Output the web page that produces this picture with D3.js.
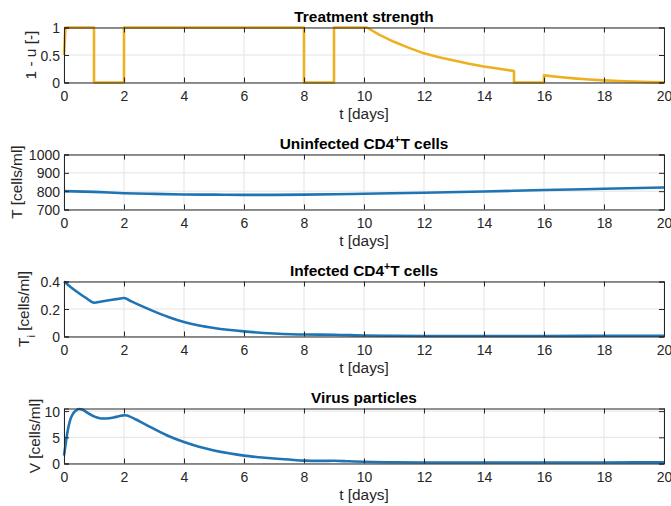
<!DOCTYPE html>
<html>
<head>
<meta charset="utf-8">
<script src="https://cdn.jsdelivr.net/npm/d3@7"></script>
<style>
  html, body { margin: 0; padding: 0; background: #fff; }
  svg { display: block; font-family: "Liberation Sans", Arial, Helvetica, sans-serif; }
</style>
</head>
<body>
<svg id="chart" width="671" height="506"></svg>
<script>
// Time grid shared by all panels (days)
const xTicks = [0, 2, 4, 6, 8, 10, 12, 14, 16, 18, 20];

// Treatment strength 1 - u
const tU = [0, 0.05, 1, 1, 2, 2, 8, 8, 9, 9, 10.1, 10.5, 11, 11.5, 12, 12.5, 13, 13.5, 14, 14.5, 15, 15, 16, 16, 16.5, 17, 17.5, 18, 18.5, 19, 19.5, 20];
const uVals = [0.5, 1, 1, 0, 0, 1, 1, 0, 0, 1, 1, 0.87, 0.74, 0.63, 0.53, 0.46, 0.40, 0.34, 0.29, 0.25, 0.21, 0, 0, 0.13, 0.10, 0.075, 0.055, 0.038, 0.026, 0.016, 0.007, 0.002];
const uTicks = [0, 0.5, 1];

// Uninfected CD4+ T cells
const tT = [0, 1, 2, 3, 4, 5, 6, 7, 8, 9, 10, 12, 14, 16, 18, 20];
const TVals = [800, 796, 789, 785, 782, 781, 780, 780, 781, 783, 786, 791, 798, 806, 813, 820];
const TTicks = [700, 800, 900, 1000];

// Infected CD4+ T cells
const tI = [0, 0.25, 0.5, 0.75, 1, 1.25, 1.5, 1.75, 2, 2.25, 2.5, 3, 3.5, 4, 4.5, 5, 6, 7, 8, 9, 10, 11, 12, 14, 16, 18, 20];
const TiVals = [0.4, 0.355, 0.315, 0.278, 0.245, 0.255, 0.264, 0.272, 0.28, 0.255, 0.23, 0.183, 0.14, 0.105, 0.08, 0.062, 0.037, 0.022, 0.014, 0.013, 0.007, 0.005, 0.004, 0.004, 0.004, 0.005, 0.006];
const TiTicks = [0, 0.2, 0.4];

// Virus particles
const tV = [0, 0.05, 0.1, 0.15, 0.2, 0.3, 0.4, 0.5, 0.6, 0.7, 0.8, 0.9, 1.0, 1.1, 1.2, 1.3, 1.5, 1.7, 1.9, 2.0, 2.1, 2.2, 2.4, 2.6, 2.8, 3.0, 3.5, 4.0, 4.5, 5.0, 5.5, 6.0, 6.5, 7.0, 7.5, 8.0, 8.5, 9.0, 9.5, 10, 11, 12, 14, 16, 18, 20];
const VVals = [1.5, 3.5, 5.5, 7.0, 8.2, 9.5, 10.1, 10.4, 10.3, 10.0, 9.6, 9.3, 9.0, 8.8, 8.65, 8.6, 8.65, 8.85, 9.1, 9.2, 9.15, 8.95, 8.4, 7.8, 7.2, 6.6, 5.2, 4.1, 3.2, 2.5, 1.95, 1.5, 1.2, 0.95, 0.75, 0.55, 0.5, 0.52, 0.42, 0.32, 0.24, 0.2, 0.18, 0.18, 0.2, 0.22];
const VTicks = [0, 5, 10];

const ORANGE = "#EDB120";
const BLUE = "#1f74b4";
const AXIS = "#262626";
const GRID = "#e3e3e3";

const svg = d3.select("#chart");
const left = 64, right = 664;
const panelH = 55, firstTop = 27.5, step = 127;

const x = d3.scaleLinear().domain([0, 20]).range([left, right]);

const panels = [
  { title: [{ t: "Treatment strength" }], t: tU, v: uVals, domain: [0, 1], ticks: uTicks,
    fmt: d => d === 0.5 ? "0.5" : String(d), color: ORANGE, curve: d3.curveLinear,
    ylabel: [{ t: "1 - u [-]" }], ylabelX: 36 },
  { title: [{ t: "Uninfected CD4" }, { t: "+", sup: true }, { t: "T cells" }], t: tT, v: TVals, domain: [700, 1000], ticks: TTicks,
    fmt: d => String(d), color: BLUE, curve: d3.curveMonotoneX,
    ylabel: [{ t: "T [cells/ml]" }], ylabelX: 22 },
  { title: [{ t: "Infected CD4" }, { t: "+", sup: true }, { t: "T cells" }], t: tI, v: TiVals, domain: [0, 0.4], ticks: TiTicks,
    fmt: d => d === 0 ? "0" : d.toFixed(1), color: BLUE, curve: d3.curveMonotoneX,
    ylabel: [{ t: "T" }, { t: "i", sub: true }, { t: " [cells/ml]" }], ylabelX: 29 },
  { title: [{ t: "Virus particles" }], t: tV, v: VVals, domain: [0, 10.5], ticks: VTicks,
    fmt: d => String(d), color: BLUE, curve: d3.curveMonotoneX,
    ylabel: [{ t: "V [cells/ml]" }], ylabelX: 40 }
];

function addRuns(sel, runs, small) {
  runs.forEach(r => {
    const ts = sel.append("tspan").text(r.t);
    if (r.sup) ts.attr("baseline-shift", "super").attr("font-size", small);
    if (r.sub) ts.attr("baseline-shift", "sub").attr("font-size", small);
  });
}

panels.forEach((p, i) => {
  const top = firstTop + step * i, bottom = top + panelH;
  const y = d3.scaleLinear().domain(p.domain).range([bottom, top]);
  const g = svg.append("g");

  // grid
  g.append("g").selectAll("line").data(xTicks).join("line")
    .attr("x1", d => x(d)).attr("x2", d => x(d)).attr("y1", top).attr("y2", bottom)
    .attr("stroke", GRID).attr("stroke-width", 1);
  g.append("g").selectAll("line").data(p.ticks).join("line")
    .attr("x1", left).attr("x2", right).attr("y1", d => y(d)).attr("y2", d => y(d))
    .attr("stroke", GRID).attr("stroke-width", 1);

  // data line
  const pts = p.t.map((tt, k) => [tt, p.v[k]]);
  g.append("path").datum(pts)
    .attr("fill", "none").attr("stroke", p.color).attr("stroke-width", 2.6)
    .attr("stroke-linejoin", "round")
    .attr("d", d3.line().x(d => x(d[0])).y(d => y(d[1])).curve(p.curve));

  // axes (bottom/left with labels, top/right as box with inward ticks)
  const tick = 5;
  const xb = g.append("g").attr("transform", `translate(0,${bottom})`)
    .call(d3.axisBottom(x).tickValues(xTicks).tickSize(-tick).tickPadding(9).tickFormat(d3.format("d")));
  const xt = g.append("g").attr("transform", `translate(0,${top})`)
    .call(d3.axisTop(x).tickValues(xTicks).tickSize(-tick).tickFormat(""));
  const yl = g.append("g").attr("transform", `translate(${left},0)`)
    .call(d3.axisLeft(y).tickValues(p.ticks).tickSize(-tick).tickPadding(4).tickFormat(p.fmt));
  const yr = g.append("g").attr("transform", `translate(${right},0)`)
    .call(d3.axisRight(y).tickValues(p.ticks).tickSize(-tick).tickFormat(""));
  [xb, xt, yl, yr].forEach(a => {
    a.select(".domain").attr("stroke", AXIS).attr("stroke-width", 1);
    a.selectAll(".tick line").attr("stroke", AXIS).attr("stroke-width", 1);
    a.selectAll(".tick text").attr("fill", AXIS).attr("font-size", 14)
      .attr("font-family", '"Liberation Sans", Arial, Helvetica, sans-serif');
  });
  xb.selectAll(".tick text").attr("dy", "0.71em");
  yl.selectAll(".tick text").attr("dy", "0.36em");

  // title
  const tt = g.append("text").attr("x", (left + right) / 2).attr("y", top - 5.5)
    .attr("text-anchor", "middle").attr("font-weight", "bold").attr("font-size", 15.4).attr("fill", "#000");
  addRuns(tt, p.title, 10.5);

  // x label
  g.append("text").attr("x", (left + right) / 2).attr("y", bottom + 36)
    .attr("text-anchor", "middle").attr("font-size", 15.4).attr("fill", AXIS).text("t [days]");

  // y label
  const yt = g.append("text")
    .attr("transform", `translate(${p.ylabelX},${(top + bottom) / 2}) rotate(-90)`)
    .attr("text-anchor", "middle").attr("font-size", 15.4).attr("fill", AXIS);
  addRuns(yt, p.ylabel, 11);
});
</script>
</body>
</html>
